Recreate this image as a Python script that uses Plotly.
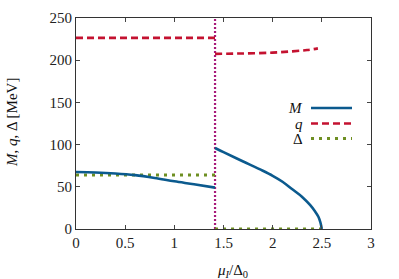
import plotly.graph_objects as go

# data
x_M_low = [0.0, 0.2, 0.4, 0.6, 0.8, 1.0, 1.2, 1.414]
M_low = [67.5, 67.0, 65.8, 63.8, 60.5, 56.5, 53.0, 49.0]
x_M_high = [1.414, 1.5, 1.7, 1.9, 2.0, 2.1, 2.2, 2.3, 2.38, 2.43, 2.465, 2.485, 2.5]
M_high = [96.0, 91.0, 80.0, 69.0, 63.0, 56.0, 47.0, 38.0, 28.5, 21.0, 14.5, 8.0, 0.0]
x_q_low = [0.0, 1.414]
q_low = [226.5, 226.5]
x_q_high = [1.414, 1.7, 2.0, 2.2, 2.35, 2.46]
q_high = [207.5, 208.0, 209.0, 210.5, 212.0, 214.0]
x_D_low = [0.0, 1.414]
D_low = [64.0, 64.0]
x_D_high = [1.414, 2.5]
D_high = [0.0, 0.0]
x_crit = [1.414, 1.414]
y_crit = [0, 250]

x_ticks = [0, 0.5, 1, 1.5, 2, 2.5, 3]
x_tick_text = ["0", "0.5", "1", "1.5", "2", "2.5", "3"]
y_ticks = [0, 50, 100, 150, 200, 250]

c_M = "#0b5a8e"
c_q = "#c41230"
c_D = "#6e8f22"
c_V = "#a8197a"
font_fam = "Liberation Serif"

fig = go.Figure()
fig.add_trace(go.Scatter(x=x_crit, y=y_crit, mode="lines",
                         line=dict(color=c_V, width=2.2, dash="2px,2px")))
fig.add_trace(go.Scatter(x=x_q_low, y=q_low, mode="lines",
                         line=dict(color=c_q, width=2.6, dash="7px,4px")))
fig.add_trace(go.Scatter(x=x_q_high, y=q_high, mode="lines", line_shape="spline",
                         line=dict(color=c_q, width=2.6, dash="7px,4px")))
fig.add_trace(go.Scatter(x=x_D_low, y=D_low, mode="lines",
                         line=dict(color=c_D, width=3, dash="3px,5px")))
fig.add_trace(go.Scatter(x=x_D_high, y=D_high, mode="lines",
                         line=dict(color=c_D, width=3, dash="3px,5px")))
fig.add_trace(go.Scatter(x=x_M_low, y=M_low, mode="lines", line_shape="spline",
                         line=dict(color=c_M, width=2.6)))
fig.add_trace(go.Scatter(x=x_M_high, y=M_high, mode="lines", line_shape="spline",
                         line=dict(color=c_M, width=2.6)))

# custom legend (text left of the sample line)
legend_items = [("<i>M</i>", c_M, "solid", 2.6, 108),
                ("<i>q</i>", c_q, "7px,4px", 2.6, 123.5),
                ("Δ", c_D, "3px,5px", 3, 138.5)]
W, H = 399, 279
L, R, T, B = 76, 28, 18, 50
pw, ph = W - L - R, H - T - B
for txt, col, dash, wd, ypx in legend_items:
    yp = 1 - (ypx - T) / ph
    fig.add_shape(type="line", xref="paper", yref="paper",
                  x0=(311 - L) / pw, x1=(352 - L) / pw, y0=yp, y1=yp,
                  line=dict(color=col, width=wd, dash=dash))
    fig.add_annotation(xref="paper", yref="paper", x=(305 - L) / pw, y=yp,
                       text=txt, showarrow=False, xanchor="right", yanchor="middle",
                       font=dict(family=font_fam, size=15, color="#111"))

fig.add_annotation(xref="paper", yref="paper", x=(232 - L) / pw, y=1 - (271 - T) / ph,
                   text="<i>μ<sub>I</sub></i>/Δ<sub>0</sub>", showarrow=False,
                   xanchor="center", yanchor="middle",
                   font=dict(family=font_fam, size=15, color="#111"))
fig.add_annotation(xref="paper", yref="paper", x=(12 - L) / pw, y=1 - (123 - T) / ph,
                   text="<i>M</i>, <i>q</i>, Δ [MeV]", showarrow=False, textangle=-90,
                   xanchor="center", yanchor="middle",
                   font=dict(family=font_fam, size=15, color="#111"))

axis_common = dict(showgrid=False, zeroline=False, showline=True, linecolor="#333",
                   linewidth=1, mirror="allticks", ticks="inside", ticklen=4,
                   tickcolor="#444", tickfont=dict(family=font_fam, size=15, color="#222"))
fig.update_xaxes(range=[0, 3], tickvals=x_ticks, ticktext=x_tick_text, **axis_common)
fig.update_yaxes(range=[0, 250], tickvals=y_ticks, **axis_common)

fig.update_layout(width=W, height=H, margin=dict(l=L, r=R, t=T, b=B, autoexpand=False),
                  plot_bgcolor="white", paper_bgcolor="white", showlegend=False)
fig.write_html("out.html", config={"displayModeBar": False, "staticPlot": True},
               post_script="document.body.style.margin='0';document.body.style.overflow='hidden';")
